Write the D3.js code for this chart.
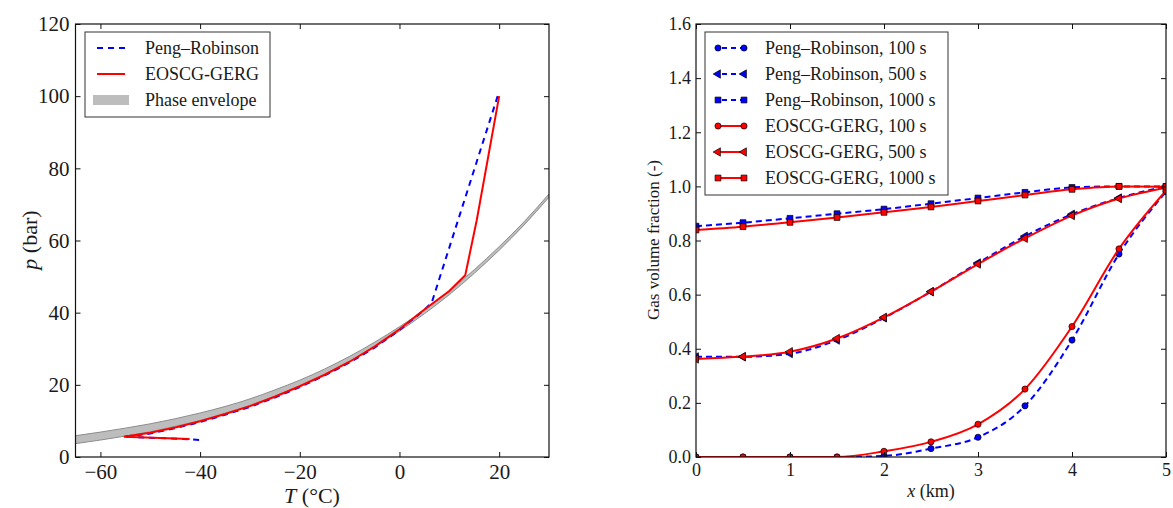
<!DOCTYPE html>
<html>
<head>
<meta charset="utf-8">
<script src="https://cdn.jsdelivr.net/npm/d3@7"></script>
<style>
  body { margin: 0; background: #fff; }
  svg text { font-family: "Liberation Serif", "DejaVu Serif", serif; fill: #1a1a1a; }
</style>
</head>
<body>
<svg id="chart" width="1173" height="508"></svg>
<script>
// ---- left panel: p-T paths ----
const envT     = [-65, -60, -55, -50, -45, -40, -35, -30, -25, -20, -15, -10, -5, 0, 5, 10, 15, 20, 25, 30];
const envLower = [3.7, 4.7, 5.8, 7.0, 8.5, 10.1, 12.1, 14.3, 16.9, 19.7, 22.9, 26.5, 30.5, 34.9, 39.7, 45.0, 50.9, 57.3, 64.3, 72.0];
const envUpper = [5.9, 6.9, 8.0, 9.2, 10.6, 12.2, 14.0, 16.1, 18.6, 21.3, 24.4, 27.9, 31.8, 36.1, 40.8, 46.1, 51.9, 58.3, 65.2, 72.9];

const prT = [19.7, 6.5, 5, 0, -5, -10, -15, -20, -25, -30, -35, -40, -45, -50, -55.3, -47, -39.7];
const prP = [100, 42.9, 40.8, 35.2, 30.3, 26.2, 22.6, 19.4, 16.5, 13.9, 11.7, 9.7, 8.0, 6.5, 5.6, 5.2, 4.7];

const egT = [20, 15.5, 13.2, 10, 5, 0, -5, -10, -15, -20, -25, -30, -35, -40, -45, -50, -55.3, -42.1];
const egP = [100, 65.6, 50.4, 46.0, 40.9, 35.4, 30.6, 26.4, 22.8, 19.6, 16.7, 14.1, 11.9, 9.9, 8.2, 6.7, 5.6, 5.0];

const leftXTicks = [-60, -40, -20, 0, 20];
const leftYTicks = [0, 20, 40, 60, 80, 100, 120];

// ---- right panel: gas volume fraction ----
const xKm = [0, 0.5, 1, 1.5, 2, 2.5, 3, 3.5, 4, 4.5, 5];
const pr100  = [0, 0, 0, 0, 0.004, 0.031, 0.073, 0.189, 0.432, 0.750, 0.980];
const pr500  = [0.370, 0.370, 0.382, 0.432, 0.514, 0.611, 0.717, 0.816, 0.897, 0.957, 1.000];
const pr1000 = [0.853, 0.866, 0.882, 0.899, 0.916, 0.936, 0.957, 0.978, 0.996, 1.000, 1.000];
const eg100  = [0, 0, 0, 0, 0.021, 0.056, 0.121, 0.251, 0.482, 0.769, 0.984];
const eg500  = [0.362, 0.371, 0.389, 0.438, 0.516, 0.611, 0.713, 0.808, 0.892, 0.955, 0.995];
const eg1000 = [0.839, 0.851, 0.867, 0.885, 0.904, 0.924, 0.946, 0.968, 0.989, 1.000, 0.999];

const rightXTicks = [0, 1, 2, 3, 4, 5];
const rightYTicks = [0, 0.2, 0.4, 0.6, 0.8, 1.0, 1.2, 1.4, 1.6];

const BLUE = "#0000ff", RED = "#ff0000";

const svg = d3.select("#chart");

function frame(g, x, y, xt, yt, fmtX, fmtY, fs, padX, padY) {
  const [x0, x1] = x.range(), [y0, y1] = y.range();
  g.append("g").attr("transform", `translate(0,${y0})`)
    .call(d3.axisBottom(x).tickValues(xt).tickSize(-5).tickPadding(padX).tickFormat(fmtX));
  g.append("g").attr("transform", `translate(0,${y1})`)
    .call(d3.axisTop(x).tickValues(xt).tickSize(-5).tickFormat(""));
  g.append("g").attr("transform", `translate(${x0},0)`)
    .call(d3.axisLeft(y).tickValues(yt).tickSize(-5).tickPadding(padY).tickFormat(fmtY));
  g.append("g").attr("transform", `translate(${x1},0)`)
    .call(d3.axisRight(y).tickValues(yt).tickSize(-5).tickFormat(""));
  g.selectAll(".domain").remove();
  g.selectAll(".tick line").attr("stroke", "#111");
  g.selectAll(".tick text").attr("font-size", fs).style("font-family", "Liberation Serif").attr("fill", "#1a1a1a");
  g.append("rect").attr("x", x0).attr("y", y1).attr("width", x1 - x0).attr("height", y0 - y1)
    .attr("fill", "none").attr("stroke", "#111").attr("stroke-width", 1.2);
}

// ================= LEFT =================
const xL = d3.scaleLinear().domain([-65, 30]).range([75.5, 549]);
const yL = d3.scaleLinear().domain([0, 120]).range([457, 24]);

svg.append("clipPath").attr("id", "clipL").append("rect")
  .attr("x", 75.5).attr("y", 24).attr("width", 549 - 75.5).attr("height", 433);

const gL = svg.append("g");
const plotL = gL.append("g").attr("clip-path", "url(#clipL)");

const env = envT.map((t, i) => ({ t, lo: envLower[i], hi: envUpper[i] }));
plotL.append("path").datum(env)
  .attr("d", d3.area().x(d => xL(d.t)).y0(d => yL(d.lo)).y1(d => yL(d.hi)).curve(d3.curveMonotoneX))
  .attr("fill", "#bdbdbd");
[d => d.lo, d => d.hi].forEach(acc => {
  plotL.append("path").datum(env)
    .attr("d", d3.line().x(d => xL(d.t)).y(d => yL(acc(d))).curve(d3.curveMonotoneX))
    .attr("fill", "none").attr("stroke", "#8c8c8c").attr("stroke-width", 1);
});

const lineL = d3.line().x(d => xL(d[0])).y(d => yL(d[1]));
plotL.append("path").datum(prT.map((t, i) => [t, prP[i]]))
  .attr("d", lineL).attr("fill", "none").attr("stroke", BLUE)
  .attr("stroke-width", 2).attr("stroke-dasharray", "6,5");
plotL.append("path").datum(egT.map((t, i) => [t, egP[i]]))
  .attr("d", lineL).attr("fill", "none").attr("stroke", RED).attr("stroke-width", 2);

frame(gL, xL, yL, leftXTicks, leftYTicks, d3.format("d"), d3.format("d"), 21, 7, 6);

// legend left
const lgL = gL.append("g");
lgL.append("rect").attr("x", 85).attr("y", 32).attr("width", 185).attr("height", 85)
  .attr("fill", "#fff").attr("stroke", "#333").attr("stroke-width", 1);
const legLeft = [
  { label: "Peng–Robinson", color: BLUE, dash: "6,5", w: 2 },
  { label: "EOSCG-GERG", color: RED, dash: null, w: 2 },
  { label: "Phase envelope", color: "#bdbdbd", dash: null, w: 10 }
];
legLeft.forEach((e, i) => {
  const y = 48 + i * 26;
  const l = lgL.append("line").attr("x1", e.w > 5 ? 93 : 97).attr("x2", e.w > 5 ? 129 : 125)
    .attr("y1", y).attr("y2", y).attr("stroke", e.color).attr("stroke-width", e.w);
  if (e.dash) l.attr("stroke-dasharray", e.dash);
  lgL.append("text").attr("x", 145).attr("y", y).attr("dy", "0.35em")
    .attr("font-size", 18).text(e.label);
});

// axis titles left
gL.append("text").attr("transform", "translate(37,240) rotate(-90)")
  .attr("text-anchor", "middle").attr("font-size", 22)
  .html('<tspan font-style="italic">p</tspan> (bar)');
gL.append("text").attr("x", 312).attr("y", 503)
  .attr("text-anchor", "middle").attr("font-size", 22)
  .html('<tspan font-style="italic">T</tspan> (°C)');

// ================= RIGHT =================
const xR = d3.scaleLinear().domain([0, 5]).range([696, 1166]);
const yR = d3.scaleLinear().domain([0, 1.6]).range([457, 24]);

svg.append("clipPath").attr("id", "clipR").append("rect")
  .attr("x", 696).attr("y", 24).attr("width", 1166 - 696).attr("height", 433);

const gR = svg.append("g");
const plotR = gR.append("g").attr("clip-path", "url(#clipR)");

const series = [
  { label: "Peng–Robinson, 100 s", vals: pr100, color: BLUE, dash: "6,4", sym: "circle" },
  { label: "Peng–Robinson, 500 s", vals: pr500, color: BLUE, dash: "6,4", sym: "tri" },
  { label: "Peng–Robinson, 1000 s", vals: pr1000, color: BLUE, dash: "6,4", sym: "square" },
  { label: "EOSCG-GERG, 100 s", vals: eg100, color: RED, dash: null, sym: "circle" },
  { label: "EOSCG-GERG, 500 s", vals: eg500, color: RED, dash: null, sym: "tri" },
  { label: "EOSCG-GERG, 1000 s", vals: eg1000, color: RED, dash: null, sym: "square" }
];

function marker(sel, sym, color) {
  const p = sel.append("path").attr("fill", color).attr("stroke", "#000").attr("stroke-width", 0.7);
  if (sym === "circle") p.attr("d", d3.symbol(d3.symbolCircle, 30)());
  else if (sym === "square") p.attr("d", d3.symbol(d3.symbolSquare, 34)());
  else p.attr("d", d3.symbol(d3.symbolTriangle, 30)()).attr("transform", "rotate(-90)");
  return p;
}

const lineR = d3.line().x(d => xR(d[0])).y(d => yR(d[1])).curve(d3.curveMonotoneX);
series.forEach(s => {
  const pts = xKm.map((x, i) => [x, s.vals[i]]);
  const l = plotR.append("path").datum(pts).attr("d", lineR)
    .attr("fill", "none").attr("stroke", s.color).attr("stroke-width", 2);
  if (s.dash) l.attr("stroke-dasharray", s.dash);
  pts.forEach(p => {
    const g = plotR.append("g").attr("transform", `translate(${xR(p[0])},${yR(p[1])})`);
    marker(g, s.sym, s.color);
  });
});

frame(gR, xR, yR, rightXTicks, rightYTicks, d3.format("d"), d3.format(".1f"), 18, 6, 5);

// legend right
const lgR = gR.append("g");
lgR.append("rect").attr("x", 705).attr("y", 32).attr("width", 243).attr("height", 163)
  .attr("fill", "#fff").attr("stroke", "#333").attr("stroke-width", 1);
series.forEach((s, i) => {
  const y = 48 + i * 26;
  const l = lgR.append("line").attr("x1", 718).attr("x2", 744).attr("y1", y).attr("y2", y)
    .attr("stroke", s.color).attr("stroke-width", 2);
  if (s.dash) l.attr("stroke-dasharray", "5,4").attr("stroke-dashoffset", -4);
  [718, 744].forEach(x => marker(lgR.append("g").attr("transform", `translate(${x},${y})`), s.sym, s.color));
  lgR.append("text").attr("x", 765).attr("y", y).attr("dy", "0.35em")
    .attr("font-size", 18).text(s.label);
});

// axis titles right
gR.append("text").attr("transform", "translate(659,240) rotate(-90)")
  .attr("text-anchor", "middle").attr("font-size", 17).text("Gas volume fraction (-)");
gR.append("text").attr("x", 931).attr("y", 497)
  .attr("text-anchor", "middle").attr("font-size", 18)
  .html('<tspan font-style="italic">x</tspan> (km)');
</script>
</body>
</html>
